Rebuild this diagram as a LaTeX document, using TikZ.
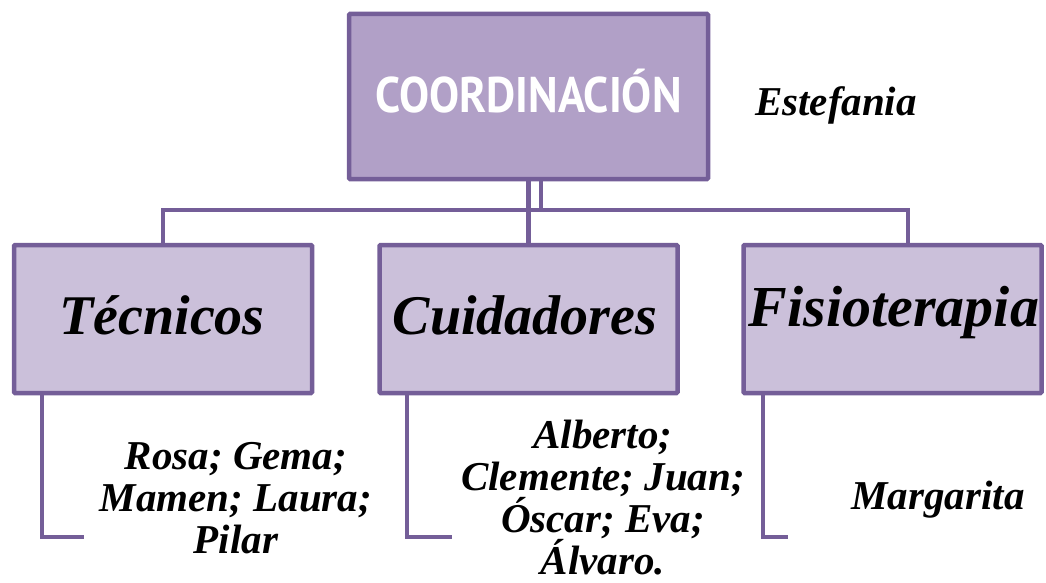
\documentclass[tikz,border=0pt]{standalone}
\usepackage{fontspec}
\setmainfont{Liberation Serif}
\newfontfamily\capsfont{PT Sans}
\definecolor{edge}{HTML}{745E98}
\definecolor{topfill}{HTML}{B1A0C7}
\definecolor{boxfill}{HTML}{CBC0DA}
\tikzset{
  box/.style={draw=edge, line width=4.5pt, fill=boxfill, minimum width=298pt, minimum height=148pt, inner sep=0pt, outer sep=0pt, rounded corners=1pt},
  topbox/.style={box, fill=topfill, minimum width=359pt, minimum height=165pt},
  conn/.style={draw=edge, line width=4.5pt},
  title/.style={font=\fontsize{56}{60}\selectfont\bfseries\itshape, text=black, inner sep=0pt},
  names/.style={font=\fontsize{41}{42}\selectfont\bfseries\itshape, align=center, text=black, inner sep=0pt}
}
\begin{document}
\begin{tikzpicture}[x=1pt,y=-1pt]
\useasboundingbox (0,0) rectangle (1046,583);
\node[topbox] (top) at (528.5,96.5) {};
\node[text=white, font=\capsfont\fontsize{50}{54}\selectfont\bfseries] (coordt) at (528.5,91) {\scalebox{0.9}[1]{COORDINACIÓN}};
\node[box] (tec) at (163,319) {};
\node[box] (cui) at (528.5,319) {};
\node[box] (fis) at (892.5,319) {};
\node[title] (tect) at (162,315) {Técnicos};
\node[title] (cuit) at (525,315) {Cuidadores};
\node[title, font=\fontsize{58}{62}\selectfont\bfseries\itshape] (fist) at (894,313) {Fisioterapia};
\draw[conn] (top.south) -- (cui.north);
\draw[conn] ([xshift=12.5pt]top.south) -- ++(0,31) coordinate (split);
\draw[conn] (tec.north) |- (split) -| ([xshift=15.5pt]fis.north);
\draw[conn] ([xshift=-121pt]tec.south) |- ++(42,144) coordinate (tecend);
\draw[conn] ([xshift=-121.5pt]cui.south) |- ++(45,144) coordinate (cuiend);
\draw[conn] ([xshift=-129.5pt]fis.south) |- ++(25,144) coordinate (fisend);
\node[names] (estef) at (836,105) {Estefania};
\node[names] (tecn) at (236,498) {Rosa; Gema;\\Mamen; Laura;\\Pilar};
\node[names, anchor=north] (cuin) at (603,420) {Alberto;\\Clemente; Juan;\\Óscar; Eva;\\\raisebox{0pt}[\height][0pt]{Álvaro.}};
\node[names] (fisn) at (938,500) {Margarita};
\end{tikzpicture}
\end{document}
